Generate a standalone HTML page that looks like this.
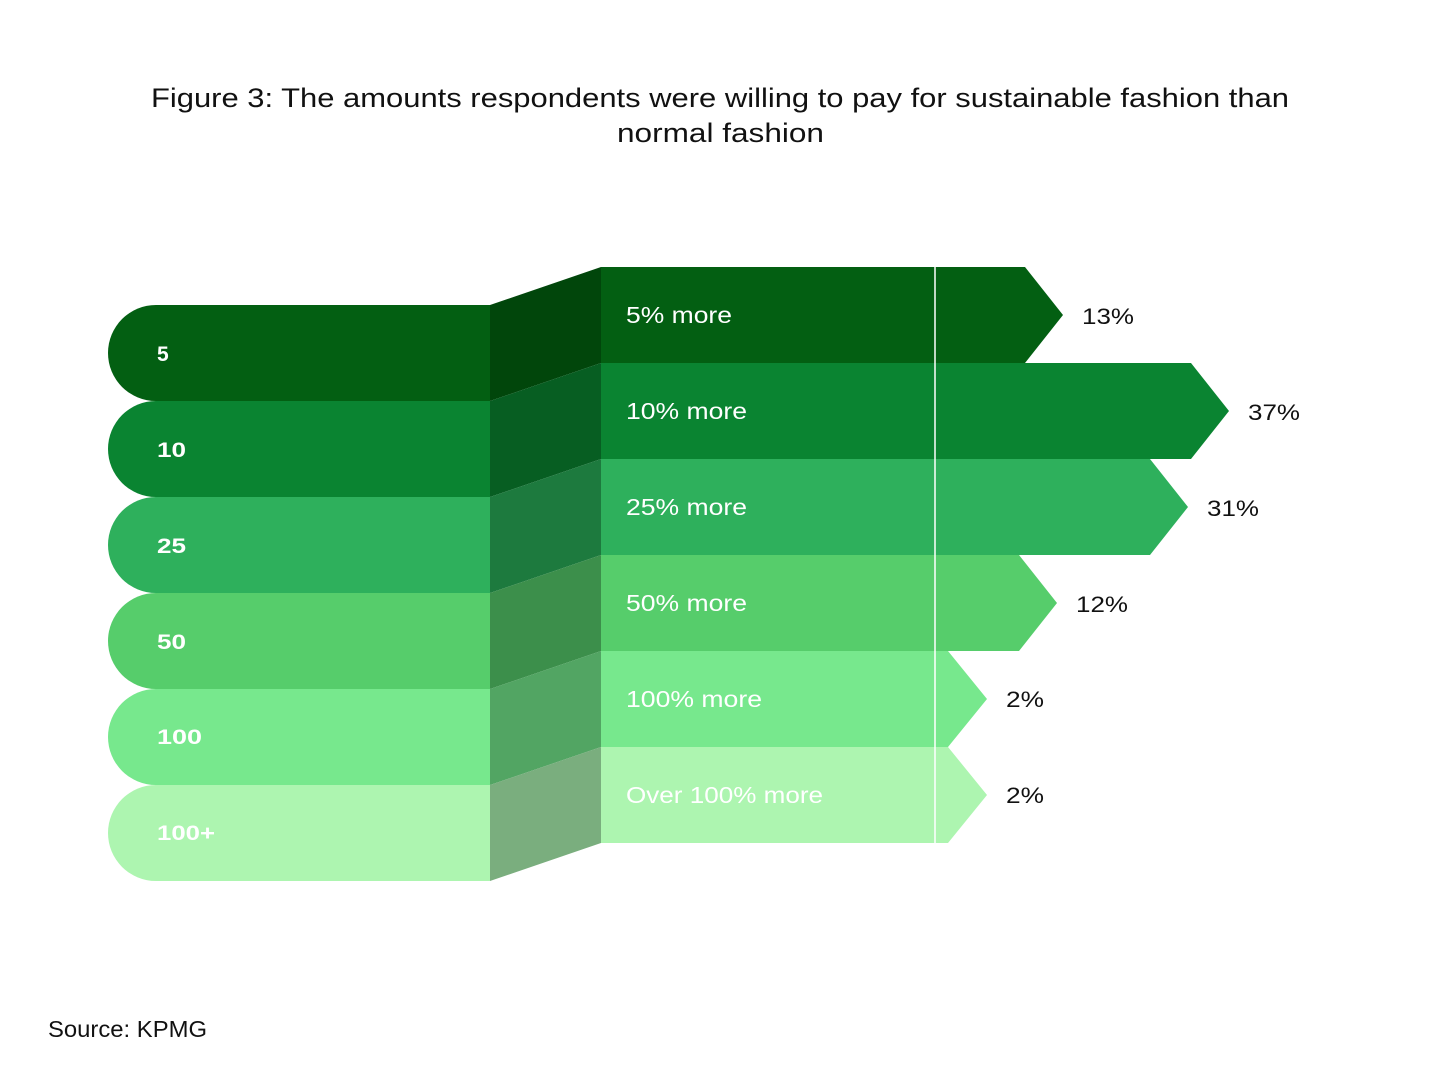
<!DOCTYPE html>
<html><head><meta charset="utf-8"><style>
html,body{margin:0;padding:0;background:#fff;}
body{width:1440px;height:1080px;overflow:hidden;font-family:"Liberation Sans","DejaVu Sans",sans-serif;}
</style></head><body>
<svg width="1440" height="1080" xmlns="http://www.w3.org/2000/svg" font-family="Liberation Sans, DejaVu Sans, sans-serif">
<text x="151" y="107" textLength="1138" lengthAdjust="spacingAndGlyphs" font-size="27" fill="#111">Figure 3: The amounts respondents were willing to pay for sustainable fashion than</text>
<text x="617" y="142" textLength="207" lengthAdjust="spacingAndGlyphs" font-size="27" fill="#111">normal fashion</text>

<g>
<path d="M156 305 H490 V401 H156 A48 48 0 0 1 156 305Z" fill="#035f12"/>
<path d="M156 401 H490 V497 H156 A48 48 0 0 1 156 401Z" fill="#0a8431"/>
<path d="M156 497 H490 V593 H156 A48 48 0 0 1 156 497Z" fill="#2eb05c"/>
<path d="M156 593 H490 V689 H156 A48 48 0 0 1 156 593Z" fill="#56cd6b"/>
<path d="M156 689 H490 V785 H156 A48 48 0 0 1 156 689Z" fill="#77e88d"/>
<path d="M156 785 H490 V881 H156 A48 48 0 0 1 156 785Z" fill="#adf5b0"/>
</g>
<g fill="#fff" font-size="21" font-weight="bold">
<text x="157" y="361">5</text>
<text x="157" y="457" textLength="29" lengthAdjust="spacingAndGlyphs">10</text>
<text x="157" y="553" textLength="29" lengthAdjust="spacingAndGlyphs">25</text>
<text x="157" y="649" textLength="29" lengthAdjust="spacingAndGlyphs">50</text>
<text x="157" y="744" textLength="45" lengthAdjust="spacingAndGlyphs">100</text>
<text x="157" y="840" textLength="58" lengthAdjust="spacingAndGlyphs">100+</text>
</g>

<polygon points="490,305 601,267 601,363 490,401" fill="#01460b"/>
<polygon points="490,401 601,363 601,459 490,497" fill="#075e22"/>
<polygon points="490,497 601,459 601,555 490,593" fill="#1d7a3e"/>
<polygon points="490,593 601,555 601,651 490,689" fill="#3c8f4b"/>
<polygon points="490,689 601,651 601,747 490,785" fill="#52a563"/>
<polygon points="490,785 601,747 601,843 490,881" fill="#7aae7e"/>

<polygon points="601,267 1025,267 1063,315 1025,363 601,363" fill="#035f12"/>
<polygon points="601,363 1191,363 1229,411 1191,459 601,459" fill="#0a8431"/>
<polygon points="601,459 1150,459 1188,507 1150,555 601,555" fill="#2eb05c"/>
<polygon points="601,555 1019,555 1057,603 1019,651 601,651" fill="#56cd6b"/>
<polygon points="601,651 948,651 987,699 948,747 601,747" fill="#77e88d"/>
<polygon points="601,747 948,747 987,795 948,843 601,843" fill="#adf5b0"/>
<line x1="935" y1="267" x2="935" y2="843" stroke="#fff" stroke-width="1.5"/>

<g fill="#fff" font-size="23">
<text x="626" y="323" textLength="106" lengthAdjust="spacingAndGlyphs">5% more</text>
<text x="626" y="419" textLength="121" lengthAdjust="spacingAndGlyphs">10% more</text>
<text x="626" y="515" textLength="121" lengthAdjust="spacingAndGlyphs">25% more</text>
<text x="626" y="611" textLength="121" lengthAdjust="spacingAndGlyphs">50% more</text>
<text x="626" y="707" textLength="136" lengthAdjust="spacingAndGlyphs">100% more</text>
<text x="626" y="803" textLength="197" lengthAdjust="spacingAndGlyphs">Over 100% more</text>
</g>
<g fill="#111" font-size="22">
<text x="1082" y="324" textLength="52" lengthAdjust="spacingAndGlyphs">13%</text>
<text x="1248" y="420" textLength="52" lengthAdjust="spacingAndGlyphs">37%</text>
<text x="1207" y="516" textLength="52" lengthAdjust="spacingAndGlyphs">31%</text>
<text x="1076" y="612" textLength="52" lengthAdjust="spacingAndGlyphs">12%</text>
<text x="1006" y="707" textLength="38" lengthAdjust="spacingAndGlyphs">2%</text>
<text x="1006" y="803" textLength="38" lengthAdjust="spacingAndGlyphs">2%</text>
</g>
<text x="48" y="1037" font-size="23" fill="#111" textLength="159" lengthAdjust="spacingAndGlyphs">Source: KPMG</text>
</svg>
</body></html>
